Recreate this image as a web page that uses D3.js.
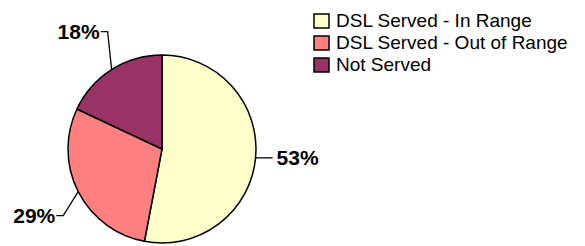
<!DOCTYPE html>
<html>
<head>
<meta charset="utf-8">
<script src="https://cdn.jsdelivr.net/npm/d3@7"></script>
<style>
  body { margin: 0; background: #fff; }
  svg { font-family: "Liberation Sans", Arial, sans-serif; }
</style>
</head>
<body>
<svg width="585" height="246"></svg>
<script>
// data
const categories = ["DSL Served - In Range", "DSL Served - Out of Range", "Not Served"];
const values = [53, 29, 18];
const colors = ["#FFFFCC", "#FF8080", "#993366"];
// leader elbow offsets from the slice edge (layout only)
const elbows = [[17, 0], [-15, 24], [-4, -38]];

const svg = d3.select("svg");
const cx = 162, cy = 149, r = 94;

const g = svg.append("g").attr("transform", `translate(${cx},${cy})`);

const pie = d3.pie().sort(null).value(d => d)(values);
const arc = d3.arc().innerRadius(0).outerRadius(r);

// slices
g.selectAll("path.slice")
    .data(pie)
    .enter()
    .append("path")
    .attr("class", "slice")
    .attr("d", arc)
    .attr("fill", (d, i) => colors[i])
    .attr("stroke", "#000")
    .attr("stroke-width", 1.5)
    .attr("stroke-linejoin", "round");

// leader lines + labels
pie.forEach((d, i) => {
    const a = (d.startAngle + d.endAngle) / 2;
    const ex = r * Math.sin(a), ey = -r * Math.cos(a);
    const kx = ex + elbows[i][0], ky = ey + elbows[i][1];
    const right = Math.sin(a) > 0;
    const tx = kx + (right ? 0 : -7);
    const pts = right ? [[ex, ey], [kx, ky]] : [[ex, ey], [kx, ky], [tx, ky]];
    g.append("path")
        .attr("d", d3.line()(pts))
        .attr("fill", "none")
        .attr("stroke", "#000")
        .attr("stroke-width", 1.3);
    g.append("text")
        .attr("x", right ? kx + 4 : tx - 1)
        .attr("y", ky + 7)
        .attr("text-anchor", right ? "start" : "end")
        .attr("font-size", 21)
        .attr("font-weight", "bold")
        .text(values[i] + "%");
});

// legend
const legend = svg.append("g").attr("transform", "translate(314,14)");
const rows = legend.selectAll("g")
    .data(categories)
    .enter()
    .append("g")
    .attr("transform", (d, i) => `translate(0,${i * 22})`);

rows.append("rect")
    .attr("width", 15)
    .attr("height", 14)
    .attr("fill", (d, i) => colors[i])
    .attr("stroke", "#000")
    .attr("stroke-width", 1.5);

rows.append("text")
    .attr("x", 22)
    .attr("y", 12.5)
    .attr("font-size", 19)
    .text(d => d);
</script>
</body>
</html>
